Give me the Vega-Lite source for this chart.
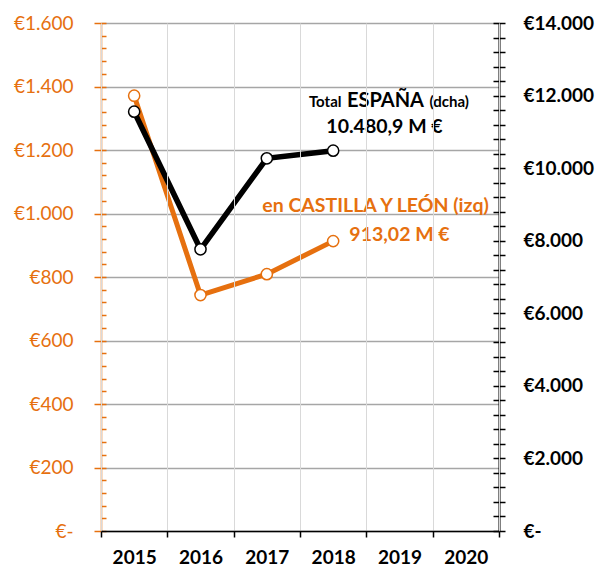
{
  "$schema": "https://vega.github.io/schema/vega-lite/v6.json",
  "width": 398,
  "height": 508,
  "autosize": {"type": "none"},
  "padding": {"left": 101, "top": 23, "right": 98, "bottom": 39},
  "background": "white",
  "config": {"font": "Lato", "view": {"stroke": null}},
  "data": {"values": [
    {"year": "2015", "cyl": 1371, "esp": 11556},
    {"year": "2016", "cyl": 743, "esp": 7763},
    {"year": "2017", "cyl": 809, "esp": 10271},
    {"year": "2018", "cyl": 913.02, "esp": 10480.9}
  ]},
  "encoding": {
    "x": {
      "field": "year", "type": "ordinal",
      "scale": {"domain": ["2015", "2016", "2017", "2018", "2019", "2020"], "paddingInner": 0, "paddingOuter": 0},
      "axis": {
        "title": null, "labelAngle": 0, "labelFont": "Lato", "labelFontSize": 19, "labelFontWeight": "bold",
        "labelColor": "black", "labelPadding": 11, "tickSize": 6, "tickColor": "black", "tickWidth": 1.5,
        "domainColor": "black", "domainWidth": 1.5, "grid": true, "gridColor": "#d9d9d9", "gridWidth": 1,
        "tickBand": "extent", "zindex": 1
      }
    }
  },
  "layer": [
    {
      "mark": {"type": "line", "color": "#E6700F", "strokeWidth": 5},
      "encoding": {
        "y": {
          "field": "cyl", "type": "quantitative",
          "scale": {"domain": [0, 1600], "nice": false},
          "axis": {
            "orient": "left", "title": null, "values": [0, 200, 400, 600, 800, 1000, 1200, 1400, 1600],
            "labelExpr": "datum.value == 0 ? '€-' : '€' + replace(format(datum.value, ','), ',', '.')",
            "labelFontSize": 19, "labelColor": "#E6700F", "labelPadding": 21,
            "tickSize": 7, "tickColor": "#E6700F", "tickWidth": 1.5,
            "domainColor": "#E6700F", "domainWidth": 1.5,
            "grid": true, "gridColor": "#a6a6a6", "gridWidth": 1.5
          }
        }
      }
    },
    {
      "mark": {"type": "line", "color": "black", "strokeWidth": 5.5},
      "encoding": {
        "y": {
          "field": "esp", "type": "quantitative",
          "scale": {"domain": [0, 14000], "nice": false},
          "axis": {
            "orient": "right", "title": null,
            "values": [0, 400, 800, 1200, 1600, 2000, 2400, 2800, 3200, 3600, 4000, 4400, 4800, 5200, 5600, 6000, 6400, 6800, 7200, 7600, 8000, 8400, 8800, 9200, 9600, 10000, 10400, 10800, 11200, 11600, 12000, 12400, 12800, 13200, 13600, 14000],
            "labelExpr": "datum.value == 0 ? '€-' : (datum.value % 2000 == 0 ? '€' + replace(format(datum.value, ','), ',', '.') : '')",
            "labelFontSize": 19, "labelFontWeight": "bold", "labelColor": "black", "labelPadding": 18,
            "labelOverlap": false,
            "tickSize": 6, "tickColor": "black", "tickWidth": 1.5,
            "domainColor": "black", "domainWidth": 2, "grid": false
          }
        }
      }
    },
    {
      "mark": {"type": "point", "opacity": 0},
      "encoding": {
        "y": {
          "field": "cyl", "type": "quantitative",
          "scale": {"domain": [0, 1600], "nice": false},
          "axis": {
            "orient": "left", "title": null,
            "values": [0, 40, 80, 120, 160, 200, 240, 280, 320, 360, 400, 440, 480, 520, 560, 600, 640, 680, 720, 760, 800, 840, 880, 920, 960, 1000, 1040, 1080, 1120, 1160, 1200, 1240, 1280, 1320, 1360, 1400, 1440, 1480, 1520, 1560, 1600],
            "labels": false, "domain": false, "grid": false,
            "tickSize": -5, "tickColor": "#E6700F", "tickWidth": 1.5
          }
        }
      }
    },
    {
      "mark": {"type": "point", "opacity": 0},
      "encoding": {
        "y": {
          "field": "esp", "type": "quantitative",
          "scale": {"domain": [0, 14000], "nice": false},
          "axis": {
            "orient": "right", "title": null,
            "values": [0, 400, 800, 1200, 1600, 2000, 2400, 2800, 3200, 3600, 4000, 4400, 4800, 5200, 5600, 6000, 6400, 6800, 7200, 7600, 8000, 8400, 8800, 9200, 9600, 10000, 10400, 10800, 11200, 11600, 12000, 12400, 12800, 13200, 13600, 14000],
            "labels": false, "domain": false, "grid": false,
            "tickSize": -6, "tickColor": "black", "tickWidth": 1.5
          }
        }
      }
    },
    {
      "mark": {"type": "point", "shape": "circle", "filled": true, "fill": "white", "stroke": "#E6700F", "strokeWidth": 1.5, "size": 125, "opacity": 1},
      "encoding": {
        "y": {"field": "cyl", "type": "quantitative", "scale": {"domain": [0, 1600], "nice": false}, "axis": null}
      }
    },
    {
      "mark": {"type": "point", "shape": "circle", "filled": true, "fill": "white", "stroke": "black", "strokeWidth": 1.5, "size": 125, "opacity": 1},
      "encoding": {
        "y": {"field": "esp", "type": "quantitative", "scale": {"domain": [0, 14000], "nice": false}, "axis": null}
      }
    },
    {
      "data": {"values": [{"year": "2019", "v": 1336, "t": "ESPAÑA"}]},
      "mark": {"type": "text", "fontSize": 20, "fontWeight": "bold", "color": "black", "align": "center", "baseline": "alphabetic", "dx": -14},
      "encoding": {
        "y": {"field": "v", "type": "quantitative", "scale": {"domain": [0, 1600], "nice": false}, "axis": null},
        "text": {"field": "t"}
      }
    },
    {
      "data": {"values": [{"year": "2019", "v": 1336, "t": "Total"}]},
      "mark": {"type": "text", "fontSize": 15, "fontWeight": "bold", "color": "black", "align": "right", "baseline": "alphabetic", "dx": -58},
      "encoding": {
        "y": {"field": "v", "type": "quantitative", "scale": {"domain": [0, 1600], "nice": false}, "axis": null},
        "text": {"field": "t"}
      }
    },
    {
      "data": {"values": [{"year": "2019", "v": 1336, "t": "(dcha)"}]},
      "mark": {"type": "text", "fontSize": 15, "fontWeight": "bold", "color": "black", "align": "left", "baseline": "alphabetic", "dx": 30},
      "encoding": {
        "y": {"field": "v", "type": "quantitative", "scale": {"domain": [0, 1600], "nice": false}, "axis": null},
        "text": {"field": "t"}
      }
    },
    {
      "data": {"values": [{"year": "2019", "v": 1253.5, "t": "10.480,9 M €"}]},
      "mark": {"type": "text", "fontSize": 19.5, "fontWeight": "bold", "color": "black", "align": "center", "baseline": "alphabetic", "dx": -15},
      "encoding": {
        "y": {"field": "v", "type": "quantitative", "scale": {"domain": [0, 1600], "nice": false}, "axis": null},
        "text": {"field": "t"}
      }
    },
    {
      "data": {"values": [{"year": "2019", "v": 1005.7, "t": "en CASTILLA Y LEÓN (izq)"}]},
      "mark": {"type": "text", "fontSize": 19.5, "fontWeight": "bold", "color": "#E6700F", "align": "center", "baseline": "alphabetic", "dx": -24},
      "encoding": {
        "y": {"field": "v", "type": "quantitative", "scale": {"domain": [0, 1600], "nice": false}, "axis": null},
        "text": {"field": "t"}
      }
    },
    {
      "data": {"values": [{"year": "2019", "v": 914, "t": "913,02 M €"}]},
      "mark": {"type": "text", "fontSize": 19.5, "fontWeight": "bold", "color": "#E6700F", "align": "center", "baseline": "alphabetic", "dx": 0},
      "encoding": {
        "y": {"field": "v", "type": "quantitative", "scale": {"domain": [0, 1600], "nice": false}, "axis": null},
        "text": {"field": "t"}
      }
    }
  ],
  "resolve": {"scale": {"y": "independent"}}
}
